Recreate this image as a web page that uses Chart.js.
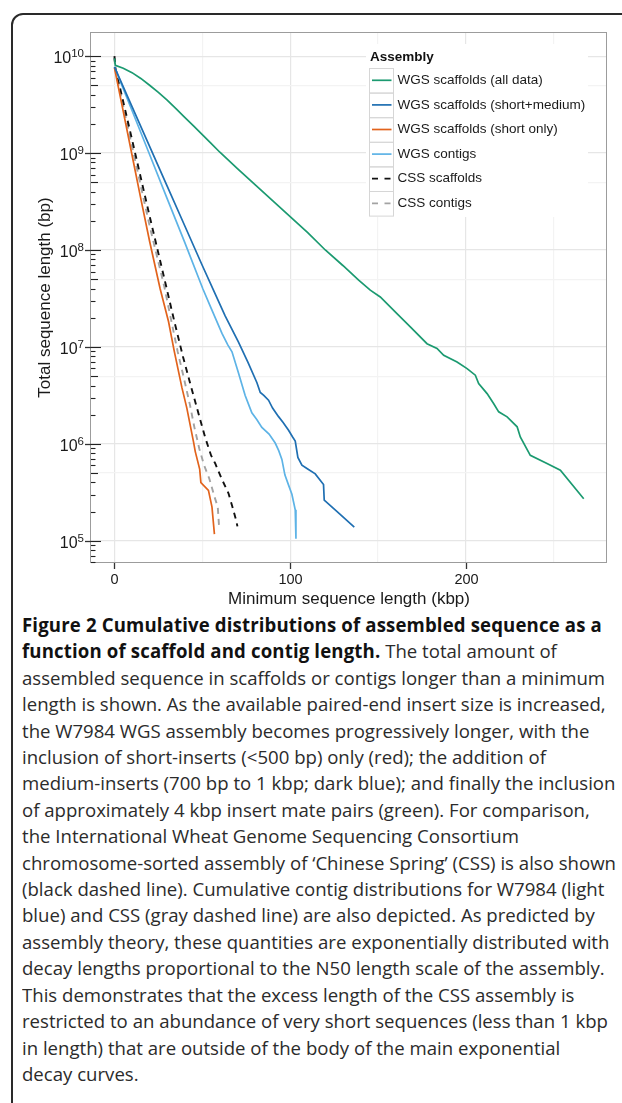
<!DOCTYPE html>
<html>
<head>
<meta charset="utf-8">
<title>Cumulative distributions of assembled sequence</title>
<script src="https://cdn.jsdelivr.net/npm/chart.js@4.4.0/dist/chart.umd.min.js"></script>
<style>
    html, body { margin: 0; padding: 0; background: #fff; }
    body { width: 622px; height: 1103px; position: relative; overflow: hidden; }
    #frame {
        position: absolute; left: 11px; top: 13px; width: 650px; height: 1130px;
        border: 2px solid #2a2a2a; border-radius: 12px; box-sizing: border-box;
    }
    #chart { position: absolute; left: 0; top: 0; }
    #caption {
        position: absolute; left: 22px; top: 612px;
        font-family: 'Open Sans', 'Noto Sans', sans-serif; font-size: 19px; line-height: 26.4px;
        color: #2b2b2b; white-space: nowrap; transform-origin: 0 0;
    }
    #caption b { color: #111; font-weight: 700; letter-spacing: 0.15px; }
</style>
</head>
<body>
<div id="frame"></div>
<canvas id="chart" width="622" height="612"></canvas>
<div id="caption">
    <div><span><b>Figure 2 Cumulative distributions of assembled sequence as a</b></span></div>
    <div><span><b>function of scaffold and contig length.</b> The total amount of</span></div>
    <div><span>assembled sequence in scaffolds or contigs longer than a minimum</span></div>
    <div><span>length is shown. As the available paired-end insert size is increased,</span></div>
    <div><span>the W7984 WGS assembly becomes progressively longer, with the</span></div>
    <div><span>inclusion of short-inserts (&lt;500 bp) only (red); the addition of</span></div>
    <div><span>medium-inserts (700 bp to 1 kbp; dark blue); and finally the inclusion</span></div>
    <div><span>of approximately 4 kbp insert mate pairs (green). For comparison,</span></div>
    <div><span>the International Wheat Genome Sequencing Consortium</span></div>
    <div><span>chromosome-sorted assembly of ‘Chinese Spring’ (CSS) is also shown</span></div>
    <div><span>(black dashed line). Cumulative contig distributions for W7984 (light</span></div>
    <div><span>blue) and CSS (gray dashed line) are also depicted. As predicted by</span></div>
    <div><span>assembly theory, these quantities are exponentially distributed with</span></div>
    <div><span>decay lengths proportional to the N50 length scale of the assembly.</span></div>
    <div><span>This demonstrates that the excess length of the CSS assembly is</span></div>
    <div><span>restricted to an abundance of very short sequences (less than 1 kbp</span></div>
    <div><span>in length) that are outside of the body of the main exponential</span></div>
    <div><span>decay curves.</span></div>
</div>
<script>
// Minimum sequence length (kbp) and total sequence length (bp)
const wgsAllX = [0, 0.5, 5, 10, 15, 20, 25, 30, 35, 40, 45, 50, 55, 60, 65, 70, 80, 90, 100, 110, 120, 130,
    139, 145.6, 151.3, 160.8, 168.4, 177.9, 183.6, 187.4, 195, 200.7, 205.4, 207.3, 212.1, 215.8, 218.7,
    223.5, 229.2, 231, 236.7, 246.2, 253.8, 267.1];
const wgsAllY = [9.46e9, 8.04e9, 7.50e9, 6.76e9, 5.89e9, 5.01e9, 4.22e9, 3.51e9, 2.88e9, 2.34e9, 1.91e9,
    1.55e9, 1.26e9, 1.02e9, 8.41e8, 6.92e8, 4.73e8, 3.24e8, 2.21e8, 1.51e8, 1.00e8, 6.92e7,
    4.88e7, 3.85e7, 3.28e7, 2.21e7, 1.61e7, 1.08e7, 9.64e6, 8.20e6, 7.00e6, 5.98e6, 5.11e6, 4.19e6,
    3.30e6, 2.61e6, 2.14e6, 1.90e6, 1.50e6, 1.18e6, 7.62e5, 6.27e5, 5.35e5, 2.72e5];

const wgsMedX = [0, 10, 20, 30, 40, 50, 57, 63, 70.6, 76, 81.1, 83, 85, 87.7, 90, 93.4, 96, 99.1, 101.5,
    102.9, 104.4, 106.7, 110, 114.3, 119, 119.4, 128, 136.5];
const wgsMedY = [7.76e9, 3.02e9, 1.17e9, 4.57e8, 1.78e8, 6.92e7, 3.63e7, 2.09e7, 1.12e7, 6.92e6, 4.27e6,
    3.39e6, 3.16e6, 2.82e6, 2.34e6, 1.91e6, 1.66e6, 1.38e6, 1.17e6, 1.07e6, 7.24e5, 6.03e5, 5.50e5,
    4.90e5, 3.80e5, 2.63e5, 1.91e5, 1.38e5];

const wgsShortX = [0, 5, 10, 15, 20, 26, 30.8, 34, 38.4, 41.2, 45, 46, 48.5, 49.2, 53.5, 55.5, 56.9];
const wgsShortY = [7.59e9, 2.69e9, 9.55e8, 3.39e8, 1.23e8, 3.98e7, 1.82e7, 9.12e6, 3.80e6, 2.34e6, 1.05e6,
    8.32e5, 5.50e5, 3.98e5, 3.31e5, 2.24e5, 1.17e5];

const wgsContigX = [0, 10, 20, 30, 40, 50.3, 55, 61.2, 64.5, 66.9, 70.6, 74.4, 76.5, 78.2, 81, 83.9, 88,
    91.5, 93.5, 95.3, 97, 99, 101, 102.9, 103.3];
const wgsContigY = [7.76e9, 2.75e9, 9.66e8, 3.39e8, 1.20e8, 3.98e7, 2.51e7, 1.38e7, 1.05e7, 8.91e6, 5.37e6,
    3.16e6, 2.51e6, 2.09e6, 1.78e6, 1.48e6, 1.26e6, 1.02e6, 8.51e5, 6.92e5, 4.79e5, 3.80e5, 3.02e5,
    2.09e5, 1.05e5];

const cssScafX = [0, 0.5, 10, 20, 29.5, 34, 39, 43, 46.5, 51.6, 55, 57.3, 61, 64.9, 67, 69.3, 70];
const cssScafY = [1.00e10, 7.59e9, 1.38e9, 2.24e8, 4.17e7, 1.86e7, 7.94e6, 4.27e6, 2.51e6, 1.17e6, 7.59e5,
    6.31e5, 4.37e5, 3.09e5, 2.29e5, 1.62e5, 1.41e5];

const cssContigX = [0, 0.5, 10, 20, 28.4, 32, 36, 39.5, 43, 45.5, 48.3, 51, 54, 57, 58.8, 59.6];
const cssContigY = [9.55e9, 7.24e9, 1.17e9, 1.78e8, 4.17e7, 2.00e7, 8.91e6, 4.79e6, 2.51e6, 1.48e6, 8.91e5,
    6.03e5, 4.37e5, 2.82e5, 2.24e5, 1.35e5];

const seriesNames = ['WGS scaffolds (all data)', 'WGS scaffolds (short+medium)', 'WGS scaffolds (short only)',
    'WGS contigs', 'CSS scaffolds', 'CSS contigs'];
const seriesColors = ['#1b9a70', '#1f6fb2', '#e2631c', '#5db3e6', '#111111', '#a3a3a3'];
const seriesDashed = [false, false, false, false, true, true];

// Axis breaks
const xGrid = [0, 50, 100, 150, 200, 250];
const xLabels = [0, 100, 200];
const yGrid = [1e5, 5e5, 1e6, 5e6, 1e7, 5e7, 1e8, 5e8, 1e9, 5e9, 1e10];
const yExponents = [5, 6, 7, 8, 9, 10];

const FONT = '"Liberation Sans", Arial, Helvetica, sans-serif';

function points(xs, ys) {
    return xs.map((x, i) => ({ x: x, y: ys[i] }));
}

const seriesData = [
    points(wgsAllX, wgsAllY), points(wgsMedX, wgsMedY), points(wgsShortX, wgsShortY),
    points(wgsContigX, wgsContigY), points(cssScafX, cssScafY), points(cssContigX, cssContigY)
];

// Range with ggplot-style 5% expansion
const xMin = -13.35, xMax = 280.35;
const yMin = Math.pow(10, 4.771), yMax = Math.pow(10, 10.249);

// Axes, log ticks, panel border
const axesPlugin = {
    id: 'ggAxes',
    afterDraw(chart) {
        const ctx = chart.ctx;
        const area = chart.chartArea;
        const xs = chart.scales.x, ys = chart.scales.y;
        ctx.save();

        // panel border
        ctx.strokeStyle = '#9c9c9c';
        ctx.lineWidth = 1;
        ctx.strokeRect(area.left - 0.5, area.top + 0.5, area.right - area.left, area.bottom - area.top - 1);

        // x ticks + labels
        ctx.strokeStyle = '#333';
        ctx.lineWidth = 1.3;
        ctx.fillStyle = '#1a1a1a';
        ctx.font = '14.5px ' + FONT;
        ctx.textAlign = 'center';
        ctx.textBaseline = 'middle';
        xLabels.forEach(v => {
            const px = Math.round(xs.getPixelForValue(v)) + 0.5;
            ctx.beginPath();
            ctx.moveTo(px, area.bottom);
            ctx.lineTo(px, area.bottom + 6);
            ctx.stroke();
            ctx.fillText(String(v), px, area.bottom + 16.5);
        });
        ctx.font = '17px ' + FONT;
        ctx.fillText('Minimum sequence length (kbp)', (area.left + area.right) / 2, area.bottom + 36);

        // y outer ticks + labels
        yExponents.forEach(e => {
            const py = Math.round(ys.getPixelForValue(Math.pow(10, e))) + 0.5;
            ctx.strokeStyle = '#333';
            ctx.lineWidth = 1.3;
            ctx.beginPath();
            ctx.moveTo(area.left - 6, py);
            ctx.lineTo(area.left, py);
            ctx.stroke();

            const right = area.left - 7;
            ctx.textAlign = 'left';
            ctx.textBaseline = 'alphabetic';
            ctx.font = '11.5px ' + FONT;
            const ew = ctx.measureText(String(e)).width;
            ctx.font = '16px ' + FONT;
            const bw = ctx.measureText('10').width;
            ctx.fillText('10', right - ew - bw, py + 6.5);
            ctx.font = '11.5px ' + FONT;
            ctx.fillText(String(e), right - ew, py + 0.5);
        });

        // annotation log ticks inside the panel
        ctx.strokeStyle = '#222';
        ctx.lineWidth = 1.1;
        for (let e = 4; e <= 10; e++) {
            for (let k = 1; k <= 9; k++) {
                const v = k * Math.pow(10, e);
                if (v < yMin || v > yMax) continue;
                const len = k === 1 ? 10 : (k === 5 ? 7 : 4.5);
                const py = Math.round(ys.getPixelForValue(v)) + 0.5;
                ctx.beginPath();
                ctx.moveTo(area.left, py);
                ctx.lineTo(area.left + len, py);
                ctx.stroke();
            }
        }

        // y title
        ctx.translate(45, (area.top + area.bottom) / 2);
        ctx.rotate(-Math.PI / 2);
        ctx.textAlign = 'center';
        ctx.textBaseline = 'middle';
        ctx.font = '17px ' + FONT;
        ctx.fillText('Total sequence length (bp)', 0, 0);
        ctx.restore();
    }
};

// ggplot-like legend inside the panel
const legendPlugin = {
    id: 'ggLegend',
    afterDraw(chart) {
        const ctx = chart.ctx;
        const left = 369, rowH = 24.6, firstRow = 68;
        ctx.save();
        ctx.fillStyle = '#fff';
        ctx.fillRect(366, 44, 222, 173);

        ctx.fillStyle = '#111';
        ctx.font = 'bold 13.5px ' + FONT;
        ctx.textAlign = 'left';
        ctx.textBaseline = 'middle';
        ctx.fillText('Assembly', 370, 57);

        chart.data.datasets.forEach((ds, i) => {
            const top = firstRow + i * rowH;
            const cy = top + rowH / 2;
            ctx.strokeStyle = '#d6d6d6';
            ctx.lineWidth = 1;
            ctx.setLineDash([]);
            ctx.strokeRect(left + 0.5, top + 0.5, 24, rowH);

            ctx.strokeStyle = ds.borderColor;
            ctx.lineWidth = 1.7;
            ctx.setLineDash(ds.borderDash.length ? [6, 6.5] : []);
            ctx.beginPath();
            ctx.moveTo(left + 3, cy);
            ctx.lineTo(left + 22.5, cy);
            ctx.stroke();

            ctx.setLineDash([]);
            ctx.fillStyle = '#1a1a1a';
            ctx.font = '13.5px ' + FONT;
            ctx.fillText(ds.label, 397.5, cy);
        });
        ctx.restore();
    }
};

const datasets = seriesData.map((pts, i) => ({
    label: seriesNames[i],
    data: pts,
    borderColor: seriesColors[i],
    borderWidth: seriesDashed[i] ? 1.9 : 1.7,
    borderDash: seriesDashed[i] ? [6, 5] : [],
    pointRadius: 0,
    tension: 0,
    fill: false
}));

new Chart(document.getElementById('chart'), {
    type: 'line',
    data: { datasets: datasets },
    options: {
        responsive: false,
        devicePixelRatio: 1,
        animation: false,
        layout: { padding: { left: 91, top: 32, right: 15, bottom: 49 } },
        plugins: { legend: { display: false }, tooltip: { enabled: false } },
        scales: {
            x: {
                type: 'linear',
                min: xMin,
                max: xMax,
                afterBuildTicks: s => { s.ticks = xGrid.map(v => ({ value: v })); },
                afterFit: s => { s.height = 0; },
                ticks: { display: false },
                border: { display: false },
                grid: {
                    drawTicks: false,
                    lineWidth: 1.2,
                    color: c => (c.tick && c.tick.value % 100 === 0) ? '#e6e6e6' : '#f3f3f3'
                }
            },
            y: {
                type: 'logarithmic',
                min: yMin,
                max: yMax,
                afterBuildTicks: s => { s.ticks = yGrid.map(v => ({ value: v })); },
                afterFit: s => { s.width = 0; },
                ticks: { display: false },
                border: { display: false },
                grid: {
                    drawTicks: false,
                    lineWidth: 1.2,
                    color: c => {
                        if (!c.tick) return '#f3f3f3';
                        const lg = Math.log10(c.tick.value);
                        return Math.abs(lg - Math.round(lg)) < 1e-6 ? '#e6e6e6' : '#f3f3f3';
                    }
                }
            }
        }
    },
    plugins: [axesPlugin, legendPlugin]
});

// Squeeze the caption so its widest regular line spans the text column
function fitCaption() {
    const cap = document.getElementById('caption');
    cap.style.transform = 'none';
    const w = cap.children[2].firstElementChild.getBoundingClientRect().width;
    cap.style.transform = 'scaleX(' + (583 / w).toFixed(4) + ')';
}
fitCaption();
if (document.fonts) document.fonts.ready.then(fitCaption);
</script>
</body>
</html>
